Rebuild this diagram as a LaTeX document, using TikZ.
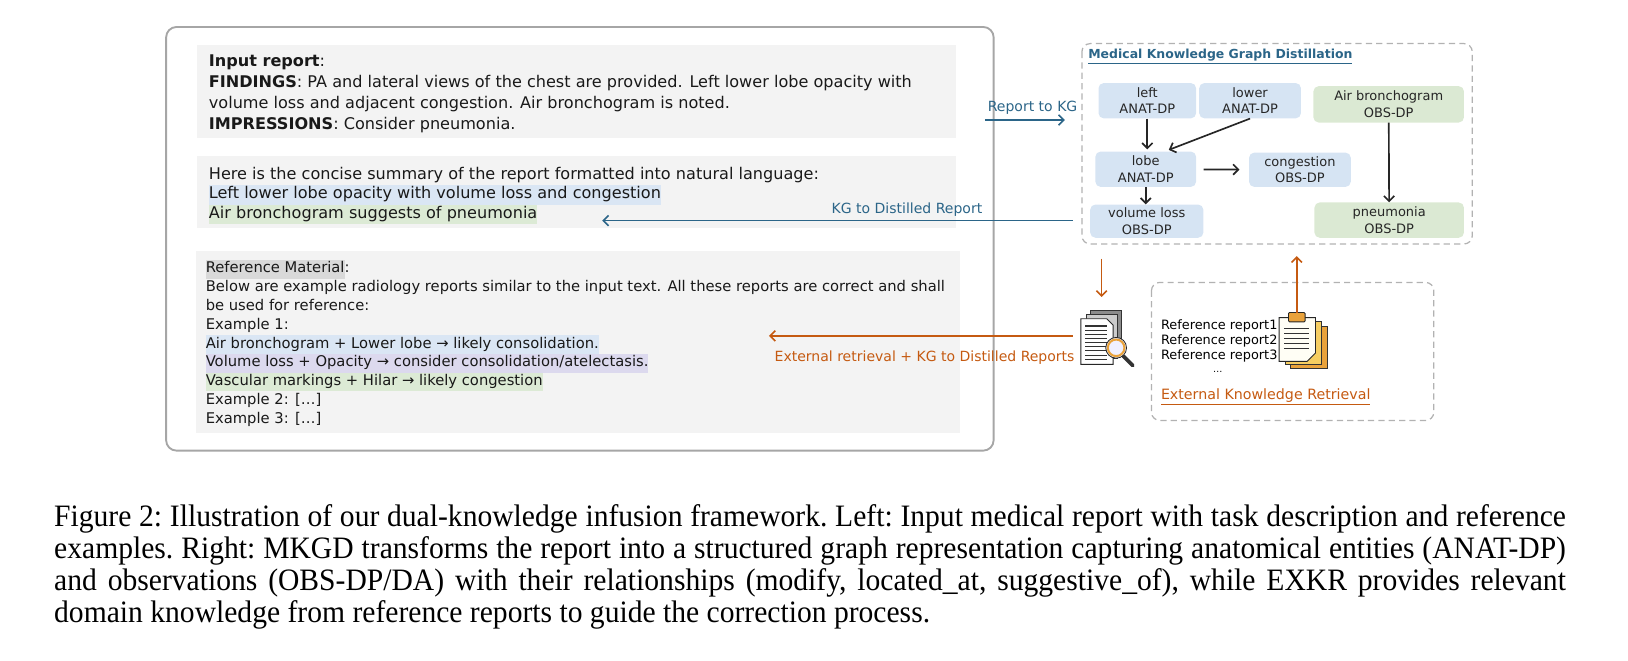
\documentclass[tikz,border=0pt]{standalone}
\usepackage{fontspec}
\setmainfont{DejaVu Sans}
\newfontfamily\capfont[FakeStretch=0.95]{Liberation Serif}
\usetikzlibrary{arrows.meta}

\definecolor{panelgray}{HTML}{F3F3F3}
\definecolor{framegray}{HTML}{A6A6A6}
\definecolor{dashgray}{HTML}{B2B2B2}
\definecolor{hlblue}{HTML}{DAE6F4}
\definecolor{hlgreen}{HTML}{DCEAD5}
\definecolor{hlpurple}{HTML}{DCD9EE}
\definecolor{hlgray}{HTML}{D9D9D9}
\definecolor{kgblue}{HTML}{2B6588}
\definecolor{exorange}{HTML}{C55A11}
\definecolor{nodeblue}{HTML}{D6E4F3}
\definecolor{nodegreen}{HTML}{DBE9D3}
\definecolor{clipor}{HTML}{E9A23B}
\definecolor{clipyel}{HTML}{F6CE61}

\newcommand{\hilite}[2]{{\setlength{\fboxsep}{0pt}\colorbox{#1}{\strut #2}}}

\begin{document}
\begin{tikzpicture}[x=1pt, y=-1pt,
    txt/.style={anchor=north west, inner sep=0pt, align=left, text=black!90},
    kgbox/.style={rounded corners=5pt, minimum height=34pt, inner sep=1pt, align=center, text=black!85, font=\fontsize{12.5}{16}\selectfont},
    bluebox/.style={kgbox, fill=nodeblue},
    greenbox/.style={kgbox, fill=nodegreen},
    rel/.style={-{Straight Barb[length=5pt,width=10pt]}, line width=1.6pt, black!85},
    flow/.style={-{Straight Barb[length=5pt,width=10pt]}, line width=1.5pt},
    dashbox/.style={draw=dashgray, line width=1.2pt, dash pattern=on 6pt off 4pt, rounded corners=8pt},
    lbl/.style={inner sep=0pt, font=\fontsize{13.5}{15}\selectfont}
  ]
    \useasboundingbox (0,0) rectangle (1568,636);

    % left part: prompt
    \draw [framegray, line width=1.8pt, rounded corners=10pt] (160,26) rectangle (957,434);
    \fill [panelgray] (190,43) rectangle (921,133);
    \fill [panelgray] (190,150) rectangle (921,220);
    \fill [panelgray] (189,242) rectangle (925,417);

    \node [txt, font=\fontsize{15.5}{20}\selectfont] (inreport) at (201,50.2)
      {\strut\textbf{Input report}:\\
       \strut\textbf{FINDINGS}: PA and lateral views of the chest are provided. Left lower lobe opacity with\\
       \strut volume loss and adjacent congestion. Air bronchogram is noted.\\
       \strut\textbf{IMPRESSIONS}: Consider pneumonia.};
    \node [txt, font=\fontsize{15.5}{19}\selectfont] (summary) at (201,159)
      {\strut Here is the concise summary of the report formatted into natural language:\\
       \hilite{hlblue}{Left lower lobe opacity with volume loss and congestion}\\
       \hilite{hlgreen}{Air bronchogram suggests of pneumonia}};
    \node [txt, font=\fontsize{14.2}{18.1}\selectfont] (refmat) at (198,250)
      {\hilite{hlgray}{Reference Material}:\\
       \strut Below are example radiology reports similar to the input text. All these reports are correct and shall\\
       \strut be used for reference:\\
       \strut Example 1:\\
       \hilite{hlblue}{Air bronchogram + Lower lobe → likely consolidation.}\\
       \hilite{hlpurple}{Volume loss + Opacity → consider consolidation/atelectasis.}\\
       \hilite{hlgreen}{Vascular markings + Hilar → likely congestion}\\
       \strut Example 2: […]\\
       \strut Example 3: […]};

    % knowledge graph
    \draw [dashbox] (1042,42) rectangle (1418,235);
    \node [anchor=west, inner sep=0pt, text=kgblue, font=\bfseries\fontsize{12}{14}\selectfont] (mkgdtitle) at (1048,54.5) {\underline{Medical Knowledge Graph Distillation}};

    \node [bluebox, minimum width=94pt] (left) at (1105,97) {left\\ANAT-DP};
    \node [bluebox, minimum width=98pt] (lower) at (1204,97) {lower\\ANAT-DP};
    \node [bluebox, minimum width=97pt] (lobe) at (1103.5,163) {lobe\\ANAT-DP};
    \node [bluebox, minimum width=98pt, minimum height=33pt] (congestion) at (1252,163.5) {congestion\\OBS-DP};
    \node [bluebox, minimum width=109pt, minimum height=32pt] (volloss) at (1104.5,213) {volume loss\\OBS-DP};
    \node [greenbox, minimum width=145pt, minimum height=35pt] (airbron) at (1337.5,100.5) {Air bronchogram\\OBS-DP};
    \node [greenbox, minimum width=144pt] (pneumonia) at (1338,212) {pneumonia\\OBS-DP};

    \draw [rel, shorten >=2pt] (left.south) -- (left.south |- lobe.north);
    \draw [rel, shorten >=4pt] (lower.south) -- (lobe.43);
    \draw [rel, shorten <=7pt, shorten >=9pt] (lobe) -- (congestion);
    \draw [rel] (lobe.south) -- (lobe.south |- volloss.north);
    \draw [rel] (airbron) -- (pneumonia);

    % blue flows
    \coordinate (rkgstart) at (948.6,115.6);
    \coordinate (rkgend) at (1025.6,115.6);
    \draw [flow, kgblue] (rkgstart) -- (rkgend);
    \node [lbl, text=kgblue] (rkglabel) at (994.5,103.5) {Report to KG};
    \coordinate (kgdstart) at (1033,212.5);
    \coordinate (kgdend) at (580,212.5);
    \draw [flow, kgblue] (kgdstart) -- (kgdend);
    \node [lbl, text=kgblue] (kgdlabel) at (873.5,201.5) {KG to Distilled Report};

    % retrieval part
    \draw [dashbox] (1109,272) rectangle (1381,405);
    \node [anchor=west, inner sep=0pt, align=left, font=\fontsize{12.4}{14.5}\selectfont] (refreps) at (1118,328.5)
      {Reference report1\\Reference report2\\Reference report3};
    \node [inner sep=0pt, font=\fontsize{9}{10}\selectfont] (refdots) at (1173,358) {…};
    \node [anchor=west, inner sep=0pt, text=exorange, font=\fontsize{13.7}{15}\selectfont] (ekrtitle) at (1118,382) {\underline{External Knowledge Retrieval}};

    % retrieval icon
    \filldraw [fill=black!45, draw=black!80, line width=0.8pt] (1050,299) rectangle (1080,339);
    \filldraw [fill=black!20, draw=black!80, line width=0.8pt] (1046,303) rectangle (1076,345);
    \filldraw [fill=white, draw=black!85, line width=0.9pt] (1041,307) -- (1066,307) -- (1072,313) -- (1072,351) -- (1041,351) -- cycle;
    \foreach \yy in {314,318,...,346} \draw [black!80, line width=1pt] (1045,\yy) -- (1066,\yy);
    \draw [black!80, line width=3.5pt, line cap=round] (1082,343) -- (1091,352);
    \filldraw [fill=blue!6, draw=black!85, line width=0.8pt] (1075,335) circle (10);
    \draw [clipor, line width=2pt] (1075,335) circle (8);

    % clipboard icon
    \filldraw [fill=clipor, draw=black!80, line width=0.8pt] (1243,314) rectangle (1278,355);
    \filldraw [fill=clipyel, draw=black!80, line width=0.8pt] (1238,310) rectangle (1273,351);
    \filldraw [fill=yellow!4, draw=black!85, line width=0.9pt] (1232,306) -- (1267,306) -- (1267,340) -- (1259,348) -- (1232,348) -- cycle;
    \foreach \yy in {316,321,...,336} \draw [black!80, line width=1pt] (1237,\yy) -- (1261,\yy);
    \filldraw [fill=clipor, draw=black!85, line width=0.8pt, rounded corners=1pt] (1241,301) rectangle (1257,310);

    % orange flows
    \coordinate (downstart) at (1061,249);
    \coordinate (downend) at (1061,286);
    \draw [flow, exorange] (downstart) -- (downend);
    \coordinate (extstart) at (1033,323.5);
    \coordinate (extend) at (740.6,323.5);
    \draw [flow, exorange] (extstart) -- (extend);
    \node [lbl, text=exorange] (extlabel) at (890.5,344) {External retrieval + KG to Distilled Reports};
    \coordinate (upstart) at (1249,301);
    \coordinate (upend) at (1249,246.7);
    \draw [flow, exorange] (upstart) -- (upend);

    % caption
    \node [anchor=north west, inner sep=0pt, text width=1456pt, align=justify, font=\capfont\fontsize{30}{31}\selectfont\frenchspacing] (caption) at (52,485)
      {\strut Figure 2: Illustration of our dual-knowledge infusion framework. Left: Input medical report with task description and reference\linebreak
       examples. Right: MKGD transforms the report into a structured graph representation capturing anatomical entities (ANAT-DP)\linebreak
       and observations (OBS-DP/DA) with their relationships (modify, located\_at, suggestive\_of), while EXKR provides relevant\linebreak
       domain knowledge from reference reports to guide the correction process.};
  \end{tikzpicture}
\end{document}
